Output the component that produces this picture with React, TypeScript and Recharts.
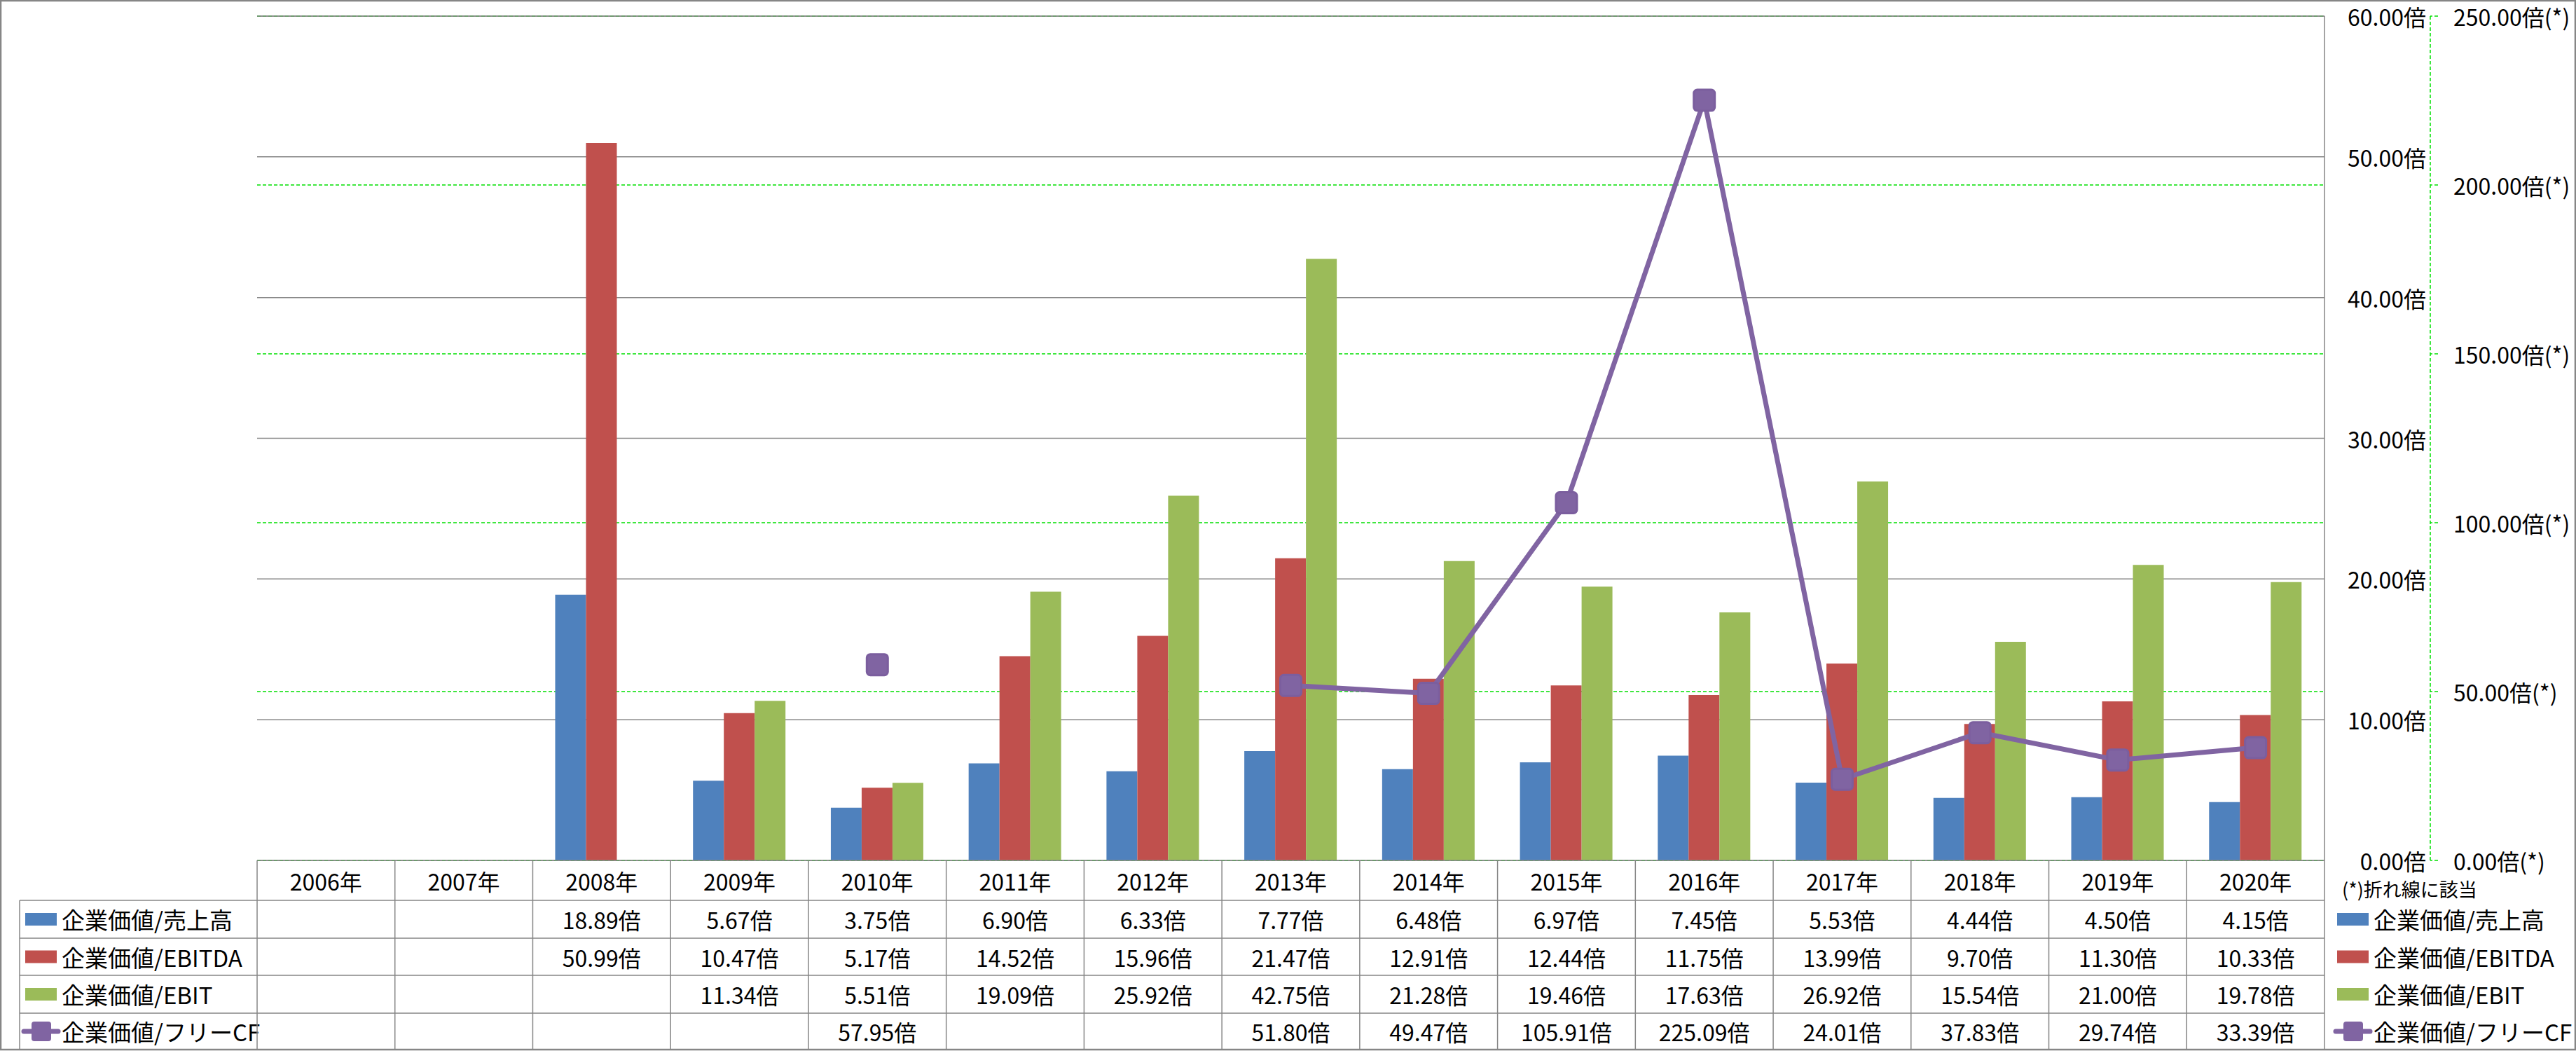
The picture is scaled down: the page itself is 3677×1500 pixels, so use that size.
import React from 'react';
import { ComposedChart, Bar, Line, XAxis, YAxis, CartesianGrid, Customized, ReferenceLine } from 'recharts';

// ---- data ----
const years = ['2006年', '2007年', '2008年', '2009年', '2010年', '2011年', '2012年', '2013年', '2014年', '2015年', '2016年', '2017年', '2018年', '2019年', '2020年'];
const salesMultiple: (number | null)[] = [null, null, 18.89, 5.67, 3.75, 6.90, 6.33, 7.77, 6.48, 6.97, 7.45, 5.53, 4.44, 4.50, 4.15];
const ebitdaMultiple: (number | null)[] = [null, null, 50.99, 10.47, 5.17, 14.52, 15.96, 21.47, 12.91, 12.44, 11.75, 13.99, 9.70, 11.30, 10.33];
const ebitMultiple: (number | null)[] = [null, null, null, 11.34, 5.51, 19.09, 25.92, 42.75, 21.28, 19.46, 17.63, 26.92, 15.54, 21.00, 19.78];
const fcfMultiple: (number | null)[] = [null, null, null, null, 57.95, null, null, 51.80, 49.47, 105.91, 225.09, 24.01, 37.83, 29.74, 33.39];
const primaryTicks = [0, 10, 20, 30, 40, 50, 60];
const secondaryTicks = [0, 50, 100, 150, 200, 250];
const seriesLabels = ['企業価値/売上高', '企業価値/EBITDA', '企業価値/EBIT', '企業価値/フリーCF'];
const noteText = '(*)折れ線に該当';

const data = years.map((y, i) => ({
  year: y,
  sales: salesMultiple[i],
  ebitda: ebitdaMultiple[i],
  ebit: ebitMultiple[i],
  fcf: fcfMultiple[i],
}));

// ---- layout / style ----
const W = 3677;
const H = 1500;
const PLOT_L = 367;
const PLOT_R = 3318;
const PLOT_T = 23;
const PLOT_B = 1228;
const AX1_W = 151;
const AX2_W = 208;
const ROW_Y = [1228, 1285, 1339, 1392, 1446, 1498];
const TABLE_L = 28;
const GRAY = '#868686';
const GREEN = '#00E000';
const COLORS = ['#4F81BD', '#C0504D', '#9BBB59', '#8064A2'];
const FONT = "'Noto Sans CJK JP', 'Noto Sans', sans-serif";
const COL_W = (PLOT_R - PLOT_L) / years.length;
const PRIMARY_LABEL_RIGHT = 3463;
const SECONDARY_LABEL_LEFT = 3502;

const rowCenter = (r: number) => (ROW_Y[r] + ROW_Y[r + 1]) / 2;

const TableColumn = (props: any) => {
  const { x, payload, index } = props;
  const i = typeof index === 'number' ? index : payload.index;
  const left = x - COL_W / 2;
  const values = [salesMultiple[i], ebitdaMultiple[i], ebitMultiple[i], fcfMultiple[i]];
  return (
    <g>
      <line x1={left} x2={left} y1={ROW_Y[0]} y2={ROW_Y[5]} stroke={GRAY} strokeWidth={1.5} />
      {i === years.length - 1 && (
        <line x1={left + COL_W} x2={left + COL_W} y1={ROW_Y[0]} y2={ROW_Y[5]} stroke={GRAY} strokeWidth={1.5} />
      )}
      {[1, 2, 3, 4].map((r) => (
        <line key={r} x1={left} x2={left + COL_W} y1={ROW_Y[r]} y2={ROW_Y[r]} stroke={GRAY} strokeWidth={1.5} />
      ))}
      <text x={x} y={rowCenter(0)} textAnchor="middle" dominantBaseline="central" fontSize={32} fill="#000" fontFamily={FONT}>
        {payload.value}
      </text>
      {values.map((v, r) =>
        v == null ? null : (
          <text key={r} x={x} y={rowCenter(r + 1)} textAnchor="middle" dominantBaseline="central" fontSize={32} fill="#000" fontFamily={FONT}>
            {v.toFixed(2)}倍
          </text>
        )
      )}
    </g>
  );
};

const LegendKey = ({ x, cy, i }: { x: number; cy: number; i: number }) =>
  i < 3 ? (
    <rect x={x} y={cy - 9} width={45} height={18} fill={COLORS[i]} />
  ) : (
    <g>
      <line x1={x - 2} x2={x + 47} y1={cy} y2={cy} stroke={COLORS[3]} strokeWidth={7} strokeLinecap="round" />
      <rect x={x + 9} y={cy - 14} width={28} height={28} rx={4} fill={COLORS[3]} />
    </g>
  );

const Decorations = () => (
  <g>
    {/* outer border */}
    <rect x={1} y={1} width={W - 2} height={H - 3} fill="none" stroke={GRAY} strokeWidth={2.5} />
    {/* row header column of table */}
    <line x1={TABLE_L} x2={TABLE_L} y1={ROW_Y[1]} y2={ROW_Y[5]} stroke={GRAY} strokeWidth={1.5} />
    {[1, 2, 3, 4, 5].map((r) => (
      <line key={r} x1={TABLE_L} x2={PLOT_L} y1={ROW_Y[r]} y2={ROW_Y[r]} stroke={GRAY} strokeWidth={1.5} />
    ))}
    {seriesLabels.map((s, i) => (
      <g key={s}>
        <LegendKey x={36} cy={rowCenter(i + 1)} i={i} />
        <text x={88} y={rowCenter(i + 1)} dominantBaseline="central" fontSize={33} fill="#000" fontFamily={FONT}>
          {s}
        </text>
      </g>
    ))}
    {/* right legend */}
    <text x={3343} y={1268} dominantBaseline="central" fontSize={27} fill="#000" fontFamily={FONT}>
      {noteText}
    </text>
    {seriesLabels.map((s, i) => (
      <g key={'r' + s}>
        <LegendKey x={3336} cy={rowCenter(i + 1)} i={i} />
        <text x={3388} y={rowCenter(i + 1)} dominantBaseline="central" fontSize={33} fill="#000" fontFamily={FONT}>
          {s}
        </text>
      </g>
    ))}
  </g>
);

const PrimaryTick = (props: any) => (
  <text x={PRIMARY_LABEL_RIGHT} y={props.y} textAnchor="end" dominantBaseline="central" fontSize={32} fill="#000" fontFamily={FONT}>
    {Number(props.payload.value).toFixed(2)}倍
  </text>
);

const SecondaryTick = (props: any) => (
  <text x={SECONDARY_LABEL_LEFT} y={props.y} textAnchor="start" dominantBaseline="central" fontSize={32} fill="#000" fontFamily={FONT}>
    {Number(props.payload.value).toFixed(2)}倍(*)
  </text>
);

const SquareDot = (props: any) => {
  const { cx, cy, value, index } = props;
  if (cx == null || cy == null || value == null || isNaN(cy)) return <g key={'d' + index} />;
  return (
    <rect key={'d' + index} x={cx - 15} y={cy - 15} width={30} height={30} rx={5} fill="#8064A2" stroke="#7B5E9E" strokeWidth={3} />
  );
};

export default function App() {
  return (
    <div style={{ position: 'absolute', left: 0, top: 0, width: W, height: H, background: '#fff', fontFamily: FONT }}>
      <ComposedChart
        width={W}
        height={H}
        data={data}
        margin={{ top: PLOT_T, left: PLOT_L, right: W - PLOT_R - AX1_W - AX2_W, bottom: 0 }}
        barGap={0}
      >
        <CartesianGrid yAxisId="p" vertical={false} stroke={GRAY} strokeWidth={1.5} />
        <CartesianGrid yAxisId="s" vertical={false} stroke={GREEN} strokeDasharray="5 3" strokeWidth={1.5} />
        <XAxis
          dataKey="year"
          height={H - PLOT_B}
          interval={0}
          tickLine={false}
          tickSize={0}
          tickMargin={0}
          axisLine={{ stroke: GRAY, strokeWidth: 1.5 }}
          tick={TableColumn}
        />
        <YAxis
          yAxisId="p"
          orientation="right"
          width={AX1_W}
          domain={[0, 60]}
          ticks={primaryTicks}
          tickLine={false}
          axisLine={{ stroke: GRAY, strokeWidth: 1.5 }}
          tick={PrimaryTick}
        />
        <YAxis
          yAxisId="s"
          orientation="right"
          width={AX2_W}
          domain={[0, 250]}
          ticks={secondaryTicks}
          tickSize={11}
          tickMargin={22}
          tickLine={{ stroke: GREEN, strokeDasharray: '5 3', strokeWidth: 1.5 }}
          axisLine={{ stroke: GREEN, strokeDasharray: '5 3', strokeWidth: 1.5 }}
          tick={SecondaryTick}
        />
        <ReferenceLine yAxisId="p" y={primaryTicks[primaryTicks.length - 1]} stroke={GRAY} strokeWidth={1.5} />
        <Bar yAxisId="p" dataKey="sales" name={seriesLabels[0]} fill={COLORS[0]} barSize={44} isAnimationActive={false} />
        <Bar yAxisId="p" dataKey="ebitda" name={seriesLabels[1]} fill={COLORS[1]} barSize={44} isAnimationActive={false} />
        <Bar yAxisId="p" dataKey="ebit" name={seriesLabels[2]} fill={COLORS[2]} barSize={44} isAnimationActive={false} />
        <Line
          yAxisId="s"
          dataKey="fcf"
          name={seriesLabels[3]}
          stroke={COLORS[3]}
          strokeWidth={7}
          dot={SquareDot}
          activeDot={false}
          connectNulls={false}
          isAnimationActive={false}
        />
        <Customized component={Decorations} />
      </ComposedChart>
    </div>
  );
}
